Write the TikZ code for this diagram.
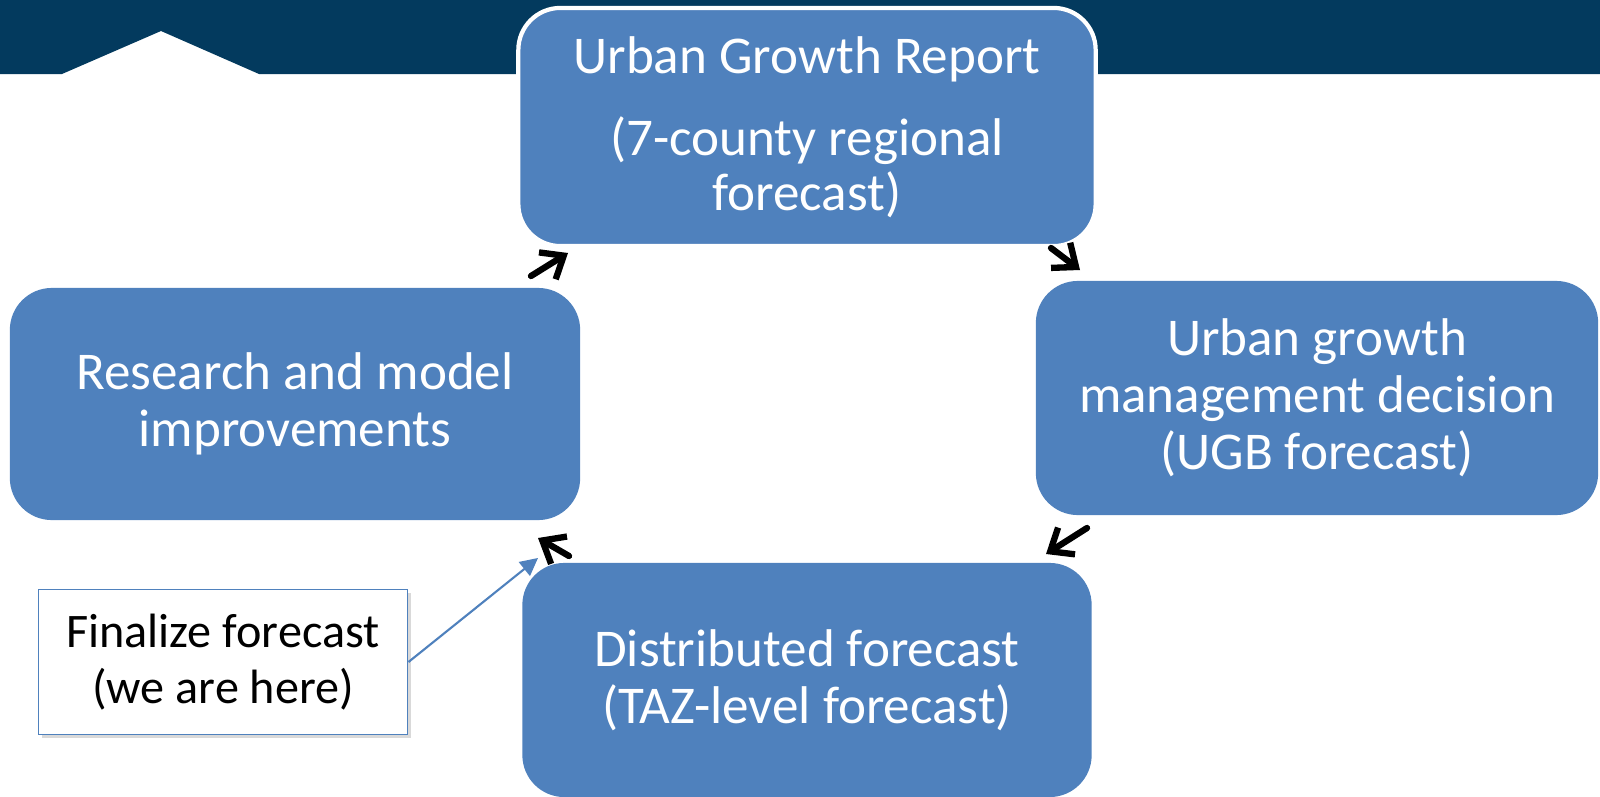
\documentclass[tikz,border=0pt]{standalone}
\usepackage{fontspec}
\setmainfont{Carlito}
\usetikzlibrary{arrows.meta,shadows}
\definecolor{banner}{HTML}{033A5E}
\definecolor{boxblue}{HTML}{4F81BD}
\begin{document}
\begin{tikzpicture}[x=0.01cm,y=-0.01cm,
  stage/.style={rectangle,rounded corners=0.42cm,fill=boxblue,text=white,align=center,
    font=\fontsize{15.1}{16.2}\selectfont},
  cycarrow/.style={line width=1.8pt,line cap=round,-{Straight Barb[length=5.5pt,width=9pt,line width=1.8pt]}},
  note/.style={rectangle,draw=boxblue,line width=0.5pt,fill=white,align=center,
    font=\fontsize{13.7}{16}\selectfont,drop shadow={shadow xshift=1pt,shadow yshift=-1pt,opacity=0.3}}]

\useasboundingbox (0,0) rectangle (1600,797);
\fill[banner] (0,0) -- (1600,0) -- (1600,74) -- (259,74) -- (161,31) -- (62,74) -- (0,74) -- cycle;

\node[stage,draw=white,line width=1.2pt,minimum width=5.77cm,minimum height=2.38cm,
  font=\fontsize{15.1}{15.5}\selectfont] (rep) at (807,127)
  {Urban Growth Report\\[8pt](7-county regional\\forecast)};
\node[stage,minimum width=5.7cm,minimum height=2.32cm] (res) at (295,404)
  {Research and model\\improvements};
\node[stage,minimum width=5.62cm,minimum height=2.34cm] (ugb) at (1317,398)
  {Urban growth\\management decision\\(UGB forecast)};
\node[stage,minimum width=5.69cm,minimum height=2.34cm] (dist) at (807,680)
  {Distributed forecast\\(TAZ-level forecast)};
\node[note,minimum width=3.69cm,minimum height=1.45cm] (fin) at (223,662)
  {Finalize forecast\\(we are here)};

      \coordinate (a1s) at (531,276);
      \coordinate (a1e) at (568,253);
      \coordinate (a2s) at (1051,248);
      \coordinate (a2e) at (1080,270);
      \coordinate (a3s) at (1087,528);
      \coordinate (a3e) at (1046,554);
      \coordinate (a4s) at (569,556);
      \coordinate (a4e) at (538,538);
      \coordinate (here) at (538,558);
\draw[cycarrow] (a1s) -- (a1e);
\draw[cycarrow] (a2s) -- (a2e);
\draw[cycarrow] (a3s) -- (a3e);
\draw[cycarrow] (a4s) -- (a4e);
%\draw[cycarrow] (res) -- (rep);
\draw[boxblue,line width=0.6pt,-{Triangle[length=5pt,width=5pt]}] (fin.east) -- (here);

\end{tikzpicture}
\end{document}
